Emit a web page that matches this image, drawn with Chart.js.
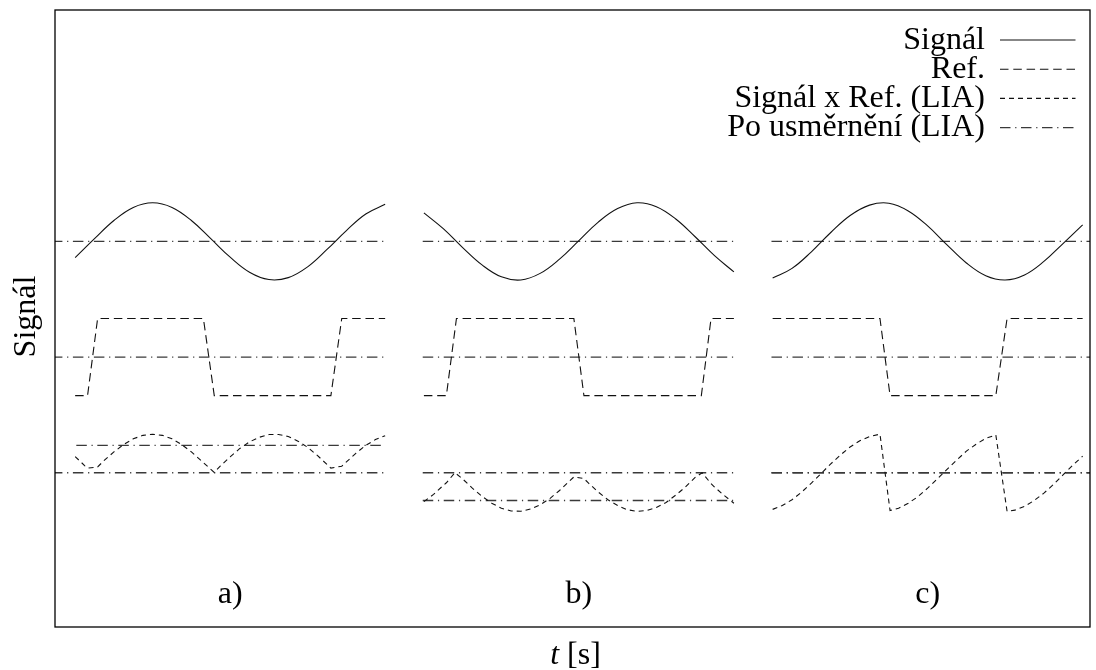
<!DOCTYPE html>
<html>
<head>
<meta charset="utf-8">
<script src="https://cdn.jsdelivr.net/npm/chart.js@4/dist/chart.umd.min.js"></script>
<style>
html,body{margin:0;padding:0;background:#fff;}
canvas{display:block;}
</style>
</head>
<body>
<canvas id="c" width="1096" height="670"></canvas>
<script>
// ---------------- data ----------------
const panelLabels = ['a)', 'b)', 'c)'];
const panelStart = [0, 9, 18];          // t offset of each panel
const panelCenterT = 4;                 // label sits at panel middle
const legendLabels = ['Signál', 'Ref.', 'Signál x Ref. (LIA)', 'Po usměrnění (LIA)'];
const xTitleItalic = 't';
const xTitleRest = ' [s]';
const yTitle = 'Signál';

// signal (solid)
const tSignal = [0, 0.5, 1, 1.5, 2, 2.5, 3, 3.5, 4, 4.5, 5, 5.5, 6, 6.5, 7, 7.5, 8];
const signalA = [5.58, 6.07, 6.54, 6.88, 7.00, 6.88, 6.54, 6.07, 5.59, 5.20, 5.01, 5.06, 5.34, 5.79, 6.28, 6.71, 6.96];
const signalB = [6.74, 6.33, 5.84, 5.39, 5.08, 5.00, 5.17, 5.54, 6.02, 6.50, 6.85, 7.00, 6.90, 6.58, 6.12, 5.63, 5.21];
const signalC = [5.05, 5.30, 5.73, 6.23, 6.67, 6.94, 6.99, 6.79, 6.40, 5.91, 5.44, 5.11, 5.00, 5.13, 5.48, 5.95, 6.43];

// reference (dashed)
const refTA = [0, 0.32, 0.58, 3.31, 3.59, 6.60, 6.88, 8];
const refA  = [2, 2, 4, 4, 2, 2, 4, 4];
const refTB = [0, 0.58, 0.84, 3.87, 4.13, 7.16, 7.41, 8];
const refB  = [2, 2, 4, 4, 2, 2, 4, 4];
const refTC = [0, 2.77, 3.03, 5.76, 6.05, 8];
const refC  = [4, 4, 2, 2, 4, 4];

// product signal x ref (densely dashed)
const prodTA = [0, 0.25, 0.32, 0.58, 0.75, 1, 1.25, 1.5, 1.75, 2, 2.25, 2.5, 2.75, 3, 3.31, 3.59, 3.75, 4, 4.25, 4.5, 4.75, 5, 5.25, 5.5, 5.75, 6, 6.25, 6.6, 6.88, 7, 7.25, 7.5, 7.75, 8];
const prodA  = [0.42, 0.18, 0.12, 0.15, 0.32, 0.54, 0.73, 0.88, 0.97, 1.00, 0.97, 0.88, 0.73, 0.54, 0.26, 0.01, 0.18, 0.41, 0.63, 0.80, 0.92, 0.99, 0.99, 0.94, 0.82, 0.66, 0.45, 0.12, 0.17, 0.28, 0.51, 0.71, 0.86, 0.96];
const prodTB = [0, 0.25, 0.5, 0.58, 0.8, 1, 1.25, 1.5, 1.75, 2, 2.25, 2.5, 2.75, 3, 3.25, 3.5, 3.87, 4.13, 4.25, 4.5, 4.75, 5, 5.25, 5.5, 5.75, 6, 6.25, 6.5, 6.75, 7, 7.18, 7.41, 7.5, 7.75, 8];
const prodB  = [-0.75, -0.56, -0.33, -0.26, 0.00, -0.16, -0.40, -0.61, -0.79, -0.92, -0.99, -1.00, -0.94, -0.83, -0.67, -0.46, -0.11, -0.15, -0.27, -0.50, -0.70, -0.85, -0.96, -1.00, -0.98, -0.90, -0.77, -0.58, -0.37, -0.12, 0.00, -0.28, -0.37, -0.59, -0.79];
const prodTC = [0, 0.25, 0.5, 0.75, 1, 1.25, 1.5, 1.75, 2, 2.25, 2.5, 2.77, 3.03, 3.25, 3.5, 3.75, 4, 4.25, 4.5, 4.75, 5, 5.25, 5.5, 5.76, 6.05, 6.25, 6.5, 6.75, 7, 7.25, 7.5, 7.75, 8];
const prodC  = [-0.95, -0.85, -0.70, -0.50, -0.27, -0.02, 0.23, 0.46, 0.67, 0.83, 0.94, 1.00, -0.98, -0.92, -0.79, -0.62, -0.40, -0.16, 0.09, 0.33, 0.56, 0.74, 0.89, 0.98, -1.00, -0.97, -0.87, -0.72, -0.53, -0.30, -0.05, 0.20, 0.43];

// levels after rectification / reference levels (dash-dot)
const signalLevel = [6, 6, 6];
const refLevel    = [3, 3, 3];
const prodZero    = [0, 0, 0];
const prodMean    = [0.71, -0.72, 0];
const levelSpan     = [[-0.6, 8], [-0.03, 8.03], [-0.03, 8.3]];
const prodMeanSpan  = [[0.03, 8], [-0.03, 8.03], [-0.03, 8.3]];

// ---------------- build datasets ----------------
const pts = (ts, vs, off) => ts.map((t, i) => ({x: t + off, y: vs[i]}));
const flat = (span, v, off) => [{x: span[0] + off, y: v}, {x: span[1] + off, y: v}];

const styleSignal = {borderColor: '#111', borderWidth: 1.1, borderDash: [], tension: 0.4};
const styleRef    = {borderColor: '#111', borderWidth: 1.1, borderDash: [8.5, 4.8], tension: 0};
const styleProd   = {borderColor: '#111', borderWidth: 1.1, borderDash: [5, 4], tension: 0};
const styleLevel  = {borderColor: '#3a3a3a', borderWidth: 1.3, borderDash: [10.5, 4.7, 1.2, 4.6], tension: 0};
const legendStyles = [styleSignal, styleRef, styleProd, styleLevel];

const common = {pointRadius: 0, pointHoverRadius: 0, fill: false, borderCapStyle: 'butt', showLine: true};
const datasets = [];
const sigs = [signalA, signalB, signalC];
const refTs = [refTA, refTB, refTC], refs = [refA, refB, refC];
const prodTs = [prodTA, prodTB, prodTC], prods = [prodA, prodB, prodC];
for (let p = 0; p < 3; p++) {
  const off = panelStart[p];
  datasets.push({label: legendLabels[0] + ' ' + panelLabels[p], data: pts(tSignal, sigs[p], off), ...common, ...styleSignal});
  datasets.push({label: legendLabels[1] + ' ' + panelLabels[p], data: pts(refTs[p], refs[p], off), ...common, ...styleRef});
  datasets.push({label: legendLabels[2] + ' ' + panelLabels[p], data: pts(prodTs[p], prods[p], off), ...common, ...styleProd});
  datasets.push({label: legendLabels[3] + ' signal ' + panelLabels[p], data: flat(levelSpan[p], signalLevel[p], off), ...common, ...styleLevel});
  datasets.push({label: legendLabels[3] + ' ref ' + panelLabels[p], data: flat(levelSpan[p], refLevel[p], off), ...common, ...styleLevel});
  datasets.push({label: legendLabels[3] + ' zero ' + panelLabels[p], data: flat(levelSpan[p], prodZero[p], off), ...common, ...styleLevel});
  datasets.push({label: legendLabels[3] + ' ' + panelLabels[p], data: flat(prodMeanSpan[p], prodMean[p], off), ...common, ...styleLevel});
}

const FONT = '"Liberation Serif", "Times New Roman", serif';

const decorPlugin = {
  id: 'decor',
  afterDraw(chart) {
    const {ctx, chartArea: ca, scales} = chart;
    ctx.save();
    // frame
    ctx.strokeStyle = '#000';
    ctx.lineWidth = 1.3;
    ctx.setLineDash([]);
    ctx.strokeRect(ca.left, ca.top, ca.right - ca.left, ca.bottom - ca.top);

    // legend (text right, line sample at right)
    ctx.fillStyle = '#000';
    ctx.font = '32px ' + FONT;
    ctx.textAlign = 'right';
    ctx.textBaseline = 'alphabetic';
    const textRight = ca.right - 105;
    const lx1 = ca.right - 90, lx2 = ca.right - 14.5;
    legendLabels.forEach((lab, i) => {
      const ly = ca.top + 30 + i * 29.2;
      ctx.fillText(lab, textRight, ly + 8.5);
      const st = legendStyles[i];
      ctx.save();
      ctx.strokeStyle = st.borderColor;
      ctx.lineWidth = st.borderWidth;
      ctx.setLineDash(st.borderDash);
      ctx.beginPath();
      ctx.moveTo(lx1, ly);
      ctx.lineTo(lx2, ly);
      ctx.stroke();
      ctx.restore();
    });

    // panel labels
    ctx.textAlign = 'center';
    panelLabels.forEach((lab, i) => {
      const x = scales.x.getPixelForValue(panelStart[i] + panelCenterT);
      ctx.fillText(lab, x, ca.bottom - 24);
    });

    // x title: italic t + [s]
    ctx.textAlign = 'left';
    ctx.font = 'italic 32px ' + FONT;
    const w1 = ctx.measureText(xTitleItalic).width;
    ctx.font = '32px ' + FONT;
    const w2 = ctx.measureText(xTitleRest).width;
    const cx = (ca.left + ca.right) / 2 + 3;
    const x0 = cx - (w1 + w2) / 2;
    const by = ca.bottom + 37;
    ctx.font = 'italic 32px ' + FONT;
    ctx.fillText(xTitleItalic, x0, by);
    ctx.font = '32px ' + FONT;
    ctx.fillText(xTitleRest, x0 + w1, by);

    // y title
    ctx.save();
    ctx.translate(35, (ca.top + ca.bottom) / 2 - 2);
    ctx.rotate(-Math.PI / 2);
    ctx.textAlign = 'center';
    ctx.fillText(yTitle, 0, 0);
    ctx.restore();

    ctx.restore();
  }
};

new Chart(document.getElementById('c'), {
  type: 'line',
  data: {datasets},
  options: {
    responsive: false,
    animation: false,
    devicePixelRatio: 1,
    layout: {padding: {left: 55, top: 10, right: 6, bottom: 43}},
    scales: {
      x: {type: 'linear', min: -0.52, max: 26.19, display: false},
      y: {type: 'linear', min: -4, max: 12, display: false}
    },
    plugins: {
      legend: {display: false},
      tooltip: {enabled: false}
    }
  },
  plugins: [decorPlugin]
});
</script>
</body>
</html>
